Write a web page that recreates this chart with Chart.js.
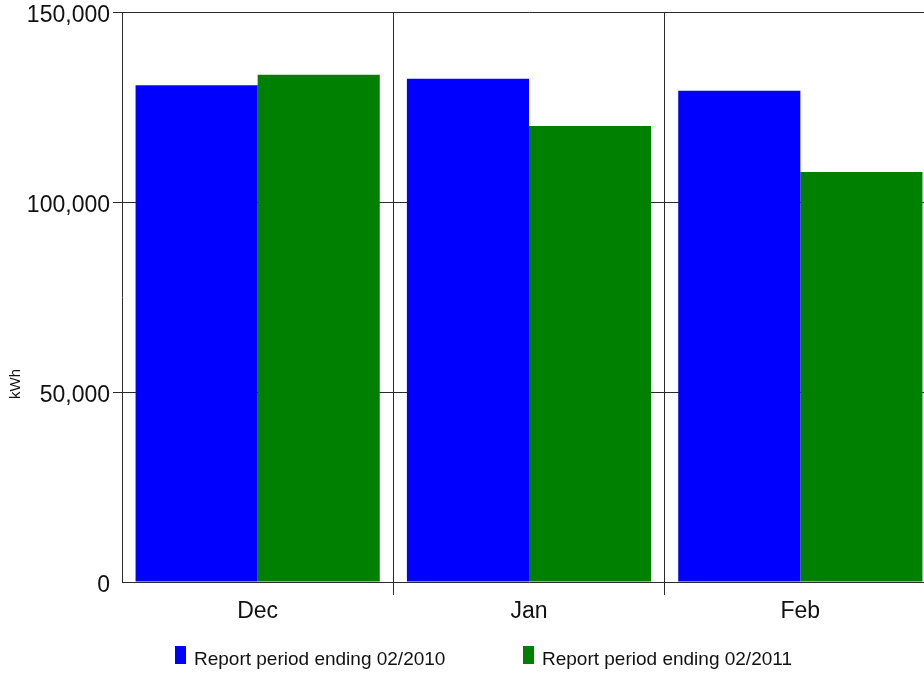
<!DOCTYPE html>
<html><head><meta charset="utf-8">
<script src="https://cdn.jsdelivr.net/npm/chart.js@4"></script>
<style>
html,body{margin:0;padding:0;background:#fff;overflow:hidden;width:924px;height:675px;}
#wrap{position:absolute;left:0;top:0;width:940px;height:675px;}
#legend{position:absolute;left:0;top:0;width:924px;height:675px;pointer-events:none;font-family:"Liberation Sans",Arial,sans-serif;}
.item{position:absolute;top:646px;height:18px;}
.box{position:absolute;left:0;top:0;width:11px;height:18px;}
.txt{position:absolute;left:19px;top:3px;font-size:19px;line-height:19px;white-space:nowrap;color:#111;}
</style></head>
<body>
<div id="wrap"><canvas id="c"></canvas></div>
<div id="legend"></div>
<script>
const categories = ['Dec', 'Jan', 'Feb'];
const seriesLabels = ['Report period ending 02/2010', 'Report period ending 02/2011'];
const values2010 = [130700, 132450, 129300];
const values2011 = [133500, 120000, 107900];
const yTicks = [0, 50000, 100000, 150000];
const yTitle = 'kWh';
const seriesColors = ['#0000ff', '#008000'];
const legendLefts = [175, 523];

const FONT = '"Liberation Sans", Arial, sans-serif';
const LINE = '#2a2a2a';
const CLEAR = 'rgba(0,0,0,0)';

const yTitlePlugin = {
  id: 'ytitle',
  afterDraw(chart) {
    const ctx = chart.ctx;
    ctx.save();
    ctx.translate(16, 384);
    ctx.rotate(-Math.PI / 2);
    ctx.font = '15px ' + FONT;
    ctx.fillStyle = '#111';
    ctx.textAlign = 'center';
    ctx.textBaseline = 'middle';
    ctx.fillText(yTitle, 0, 0);
    ctx.restore();
  }
};

new Chart(document.getElementById('c'), {
  type: 'bar',
  data: {
    labels: categories,
    datasets: [
      { label: seriesLabels[0], data: values2010, backgroundColor: seriesColors[0], borderWidth: 0,
        categoryPercentage: 0.9, barPercentage: 1.0 },
      { label: seriesLabels[1], data: values2011, backgroundColor: seriesColors[1], borderWidth: 0,
        categoryPercentage: 0.9, barPercentage: 1.0 }
    ]
  },
  options: {
    responsive: true,
    maintainAspectRatio: false,
    animation: false,
    devicePixelRatio: 1,
    layout: { padding: { top: 12, left: 0, right: 4, bottom: 0 } },
    plugins: { legend: { display: false }, tooltip: { enabled: false } },
    scales: {
      x: {
        afterFit(s) { s.height = 93; s.paddingLeft = 0; s.paddingRight = 0; },
        grid: { offset: true, color: c => (c.index === 0 ? CLEAR : LINE), lineWidth: 1, tickLength: 13, drawTicks: true },
        border: { display: true, color: LINE, width: 1 },
        ticks: { font: { family: FONT, size: 23 }, color: '#111', padding: 3 }
      },
      y: {
        min: 0, max: 150000,
        afterFit(s) { s.width = 122; s.paddingTop = 0; s.paddingBottom = 0; },
        afterBuildTicks(s) { s.ticks = yTicks.map(v => ({ value: v })); },
        grid: { color: c => (c.tick && c.tick.value === 0 ? CLEAR : LINE), lineWidth: 1, tickLength: 9, drawTicks: true },
        border: { display: true, color: LINE, width: 1 },
        ticks: {
          font: { family: FONT, size: 23, lineHeight: 1 }, color: '#111', padding: 3, labelOffset: 4,
          callback: v => Number(v).toLocaleString('en-US')
        }
      }
    }
  },
  plugins: [yTitlePlugin]
});

const legend = document.getElementById('legend');
seriesLabels.forEach((lab, i) => {
  const it = document.createElement('div');
  it.className = 'item';
  it.style.left = legendLefts[i] + 'px';
  const b = document.createElement('div');
  b.className = 'box';
  b.style.background = seriesColors[i];
  const t = document.createElement('div');
  t.className = 'txt';
  t.textContent = lab;
  it.appendChild(b); it.appendChild(t);
  legend.appendChild(it);
});
</script>
</body></html>
